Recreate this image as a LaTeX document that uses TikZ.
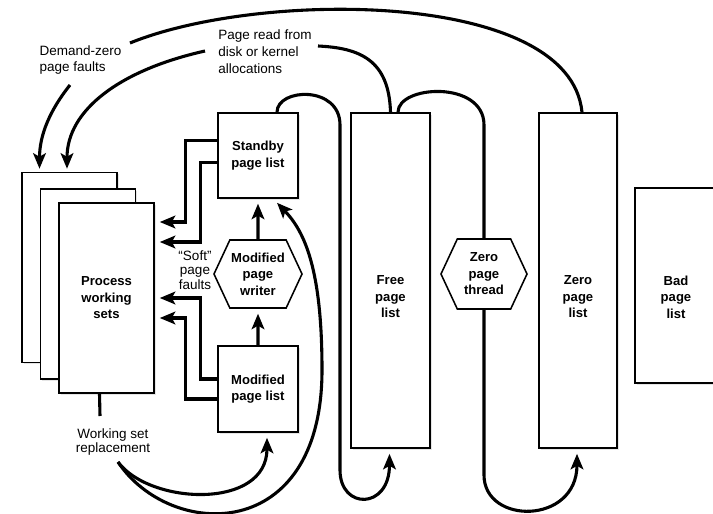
\documentclass[tikz,border=0pt]{standalone}
\usepackage{fontspec}
\setmainfont{Liberation Sans}
\usetikzlibrary{arrows.meta, calc, shapes.symbols, shadows}

\newcommand\boxfont{\fontsize{9.3}{11.7}\selectfont\bfseries}
\newcommand\notefont{\fontsize{9.6}{12}\selectfont}
\newcommand\softfont{\fontsize{9.6}{10.5}\selectfont}

\begin{document}
\begin{tikzpicture}[x=0.025cm, y=-0.025cm,
  >={Stealth[length=11pt, width=9pt, inset=2.5pt]},
  box/.style={draw, line width=1.1pt, fill=white, align=center, inner sep=2pt, font=\boxfont,
    drop shadow={shadow xshift=1.2pt, shadow yshift=-1.2pt, fill=gray!50, opacity=.4}},
  hexa/.style={draw, line width=1.1pt, fill=white, align=center, inner sep=0pt, font=\boxfont,
    signal, signal to=east and west, signal pointer angle=130},
  tall/.style={box, minimum width=1.975cm, minimum height=8.375cm},
  boxtxt/.style={font=\boxfont, align=center},
  note/.style={align=left, font=\notefont, inner sep=1pt},
  conn/.style={line width=2.2pt}]

  \useasboundingbox (0,0) rectangle (713,514);

  % process working sets
  \foreach \i/\x/\y in {1/69.5/267.5, 2/88/284} {
    \node[box, minimum width=2.375cm, minimum height=4.75cm] (ws\i) at (\x,\y) {};
  }
  \node[box, minimum width=2.375cm, minimum height=4.75cm] (ws3) at (106.5,298) {Process\\working\\sets};

  % page lists and threads
  \node[box, minimum width=2cm, minimum height=2.125cm] (sb) at (258,155.5) {Standby\\page list};
  \node[hexa, minimum width=2.2cm, minimum height=1.7cm] (mpw) at (258,274) {Modified\\page\\writer};
  \node[box, minimum width=2cm, minimum height=2.15cm] (ml) at (258,389) {Modified\\page list};
  \node[tall, label={[boxtxt, yshift=-0.41cm]center:Free\\page\\list}] (free) at (390.5,280.5) {};
  \node[hexa, minimum width=2.15cm, minimum height=1.75cm] (zt) at (484,274) {Zero\\page\\thread};
  \node[tall, minimum width=1.95cm, label={[boxtxt, yshift=-0.41cm]center:Zero\\page\\list}] (zl) at (578,280.5) {};
  \node[box, minimum width=2.05cm, minimum height=4.875cm, label={[boxtxt, yshift=-0.29cm]center:Bad\\page\\list}] (bad) at (676,285.5) {};

  % notes
  \node[note] (dz) at (80.5,60) {Demand-zero\\page faults};
  \node[note] (prd) at (265,52) {Page read from\\disk or kernel\\allocations};
  \node[note, align=center, font=\softfont] (soft) at (195,270) {“Soft”\\page\\faults};
  \node[note, align=center, font=\softfont] (wsr) at (113,442) {Working set\\replacement};

  \coordinate (dzin) at (130,43);
  \coordinate (dzout) at (70,85);
  \coordinate (prdin) at (318,46);
  \coordinate (prdout) at (205,51);
  \coordinate (wsrtop) at (100,416);
  \coordinate (wsrbot) at (118,462);

  % demand-zero and page read faults
  \draw[conn] ($(zl.north)+(4,0)$) .. controls (570,-10) and (260,-10) .. (dzin);
  \draw[conn, ->] (dzout) .. controls (50,110) and (39.5,135) .. ($(ws1.north)+(-30,-3)$);
  \draw[conn] (free.north) .. controls (389,60) and (360,48) .. (prdin);
  \draw[conn, ->] (prdout) .. controls (120,70) and (67,110) .. ($(ws1.north)+(-2.5,-3)$);

  % soft faults
  \draw[conn, ->] ($(sb.west)+(0,-15)$) -- ++(-32,0) |- ($(ws3.east)+(5,-76)$);
  \draw[conn, ->] ($(sb.west)+(0,7)$) -- ++(-17,0) |- ($(ws3.east)+(5,-56)$);
  \draw[conn, ->] ($(ml.west)+(0,-10)$) -- ++(-17,0) |- ($(ws3.east)+(5,0)$);
  \draw[conn, ->] ($(ml.west)+(0,10)$) -- ++(-32,0) |- ($(ws3.east)+(5,20)$);

  % modified page writer
  \draw[conn, ->, shorten >=3.5pt] (ml) -- (mpw);
  \draw[conn, ->, shorten >=3.5pt] (mpw) -- (sb);

  % standby to free, free through zero page thread
  \draw[conn, ->] ($(sb.north)+(19,0)$) .. controls (277,88) and (340,85) .. (340,125)
    -- (340,470) .. controls (340,510) and (389.5,510) .. ($(free.south)+(-1,5)$);
  \draw[conn] ($(free.north)+(7.5,0)$) .. controls (398,85) and (484,80) .. (484,125) -- (zt.north);
  \draw[conn, ->] (zt.south) -- (484,475) .. controls (484,525) and (577,525) .. ($(zl.south)+(-1,5)$);

  % working set replacement
  \draw[conn] ($(ws3.south)+(-7,0)$) -- (wsrtop);
  \draw[conn, ->] (wsrbot) .. controls (150,505) and (267,510) .. ($(ml.south)+(9,5)$);
  \draw[conn, ->] (wsrbot) .. controls (170,540) and (322,545) .. (322,370)
    .. controls (322,270) and (305,232) .. ($(sb.south)+(19,4)$);

\end{tikzpicture}
\end{document}
